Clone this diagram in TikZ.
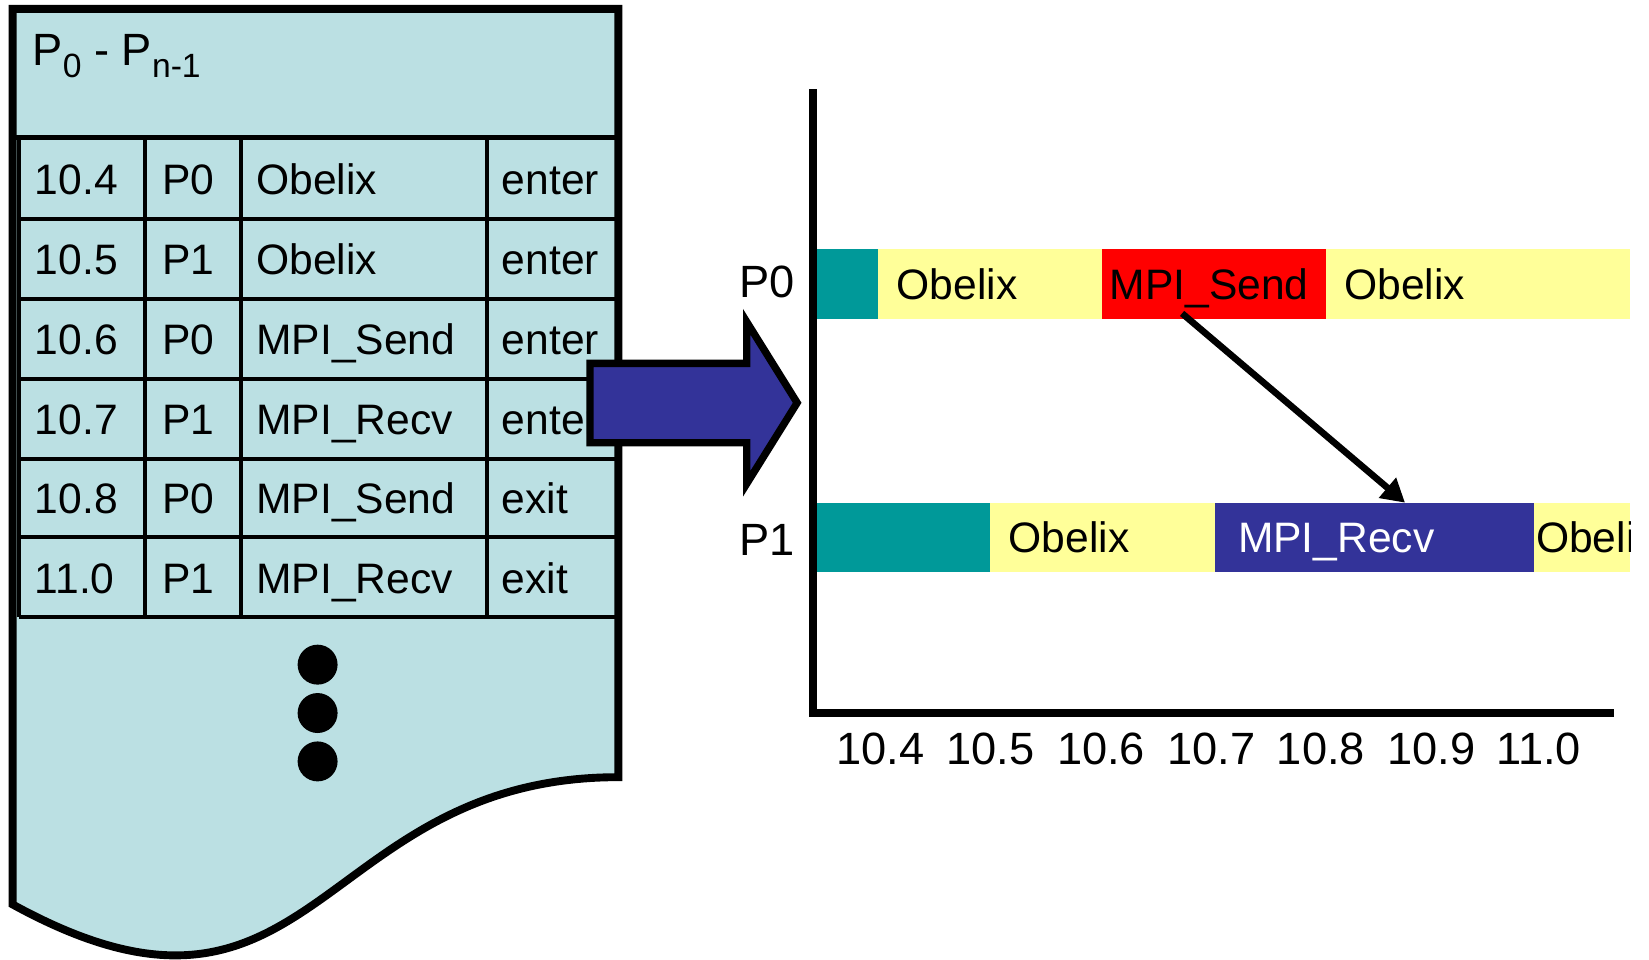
\documentclass[tikz,border=0pt]{standalone}
\usepackage{fontspec}
\setmainfont{Liberation Sans}
\usetikzlibrary{arrows.meta}
\definecolor{docfill}{HTML}{BBE0E3}
\definecolor{bteal}{HTML}{009999}
\definecolor{byellow}{HTML}{FFFF99}
\definecolor{bred}{HTML}{FF0000}
\definecolor{bblue}{HTML}{333399}
\tikzset{
  tline/.style={line width=3.8pt},
  celltext/.style={anchor=base west, inner sep=0pt, font=\fontsize{40.5}{41}\selectfont},
  bartext/.style={anchor=base west, inner sep=0pt, font=\fontsize{40.5}{41}\selectfont},
  axistext/.style={anchor=base, inner sep=0pt, font=\fontsize{43}{43}\selectfont},
  seg/.style={anchor=north west, inner sep=0pt, outer sep=0pt, minimum height=66pt},
  dotmark/.style={circle, fill=black, inner sep=0pt, minimum size=38pt},
}
\begin{document}
\begin{tikzpicture}[x=1pt,y=-1pt]
\useasboundingbox (0,0) rectangle (1568,912);

% trace file drawn as a document sheet with a wavy lower edge
\path[fill=docfill, draw=black, line width=7.5pt, line join=miter]
  (12,8.5) -- (588,8.5) -- (588,739)
  .. controls (300,739) and (300,1018) .. (12,860) -- cycle;

% header and event table
\node[anchor=base west, inner sep=0pt, font=\fontsize{43}{43}\selectfont] (hdr) at (31,62)
  {P\raisebox{-11.7pt}{\fontsize{32}{32}\selectfont 0} - P\raisebox{-11.7pt}{\fontsize{32}{32}\selectfont n-1}};
\draw[line width=4.5pt] (14,131) -- (586,131);
\foreach \y in {208,284,360,436,511,587} \draw[tline] (18,\y) -- (586,\y);
\foreach \x in {18,138,229,463} \draw[tline] (\x,131) -- (\x,587);

\foreach \yb/\ta/\tb/\tc/\td [count=\i] in {
    184.5/10.4/P0/Obelix/enter,
    261/10.5/P1/Obelix/enter,
    337/10.6/P0/MPI\_Send/enter,
    413/10.7/P1/MPI\_Recv/enter,
    488.5/10.8/P0/MPI\_Send/exit,
    564/11.0/P1/MPI\_Recv/exit} {
  \node[celltext] (time\i) at (33,\yb) {\ta};
  \node[celltext] (proc\i) at (154,\yb) {\tb};
  \node[celltext] (func\i) at (243.5,\yb) {\tc};
  \node[celltext] (kind\i) at (477,\yb) {\td};
}

% continuation dots
\foreach \y [count=\i] in {632,678,724}
  \node[dotmark] (dot\i) at (302,\y) {};

% block arrow from the trace to the timeline
\draw[fill=bblue, line width=7pt, line join=miter]
  (561,345.5) -- (710,345.5) -- (710,306) -- (758,383) -- (710,460)
  -- (710,421) -- (561,421) -- cycle;

% timeline axes
\draw[line width=7pt, line join=miter] (773,85) -- (773,678) -- (1535,678);

% process P0
\node[seg, fill=bteal,   minimum width=58pt]  (p0a) at (777,237) {};
\node[seg, fill=byellow, minimum width=213pt] (p0b) at (835,237) {};
\node[seg, fill=bred,    minimum width=213pt] (p0c) at (1048,237) {};
\node[seg, fill=byellow, minimum width=289pt] (p0d) at (1261,237) {};
\node[bartext] (l0b) at (852.5,284.5) {Obelix};
\node[bartext] (l0c) at (1055,284.5) {MPI\_Send};
\node[bartext] (l0d) at (1278,284.5) {Obelix};

% process P1
\node[seg, fill=bteal,   minimum width=164pt] (p1a) at (777,478) {};
\node[seg, fill=byellow, minimum width=214pt] (p1b) at (941,478) {};
\node[seg, fill=bblue,   minimum width=304pt] (p1c) at (1155,478) {};
\node[seg, fill=byellow, minimum width=91pt]  (p1d) at (1459,478) {};
\node[bartext] (l1b) at (959,525.5) {Obelix};
\node[bartext, text=white] (l1c) at (1177,525.5) {MPI\_Recv};
\begin{scope}
  \clip (1459,478) rectangle (1550,544);
  \node[bartext] (l1d) at (1460.5,525.5) {Obelix};
\end{scope}

% process labels
\node[axistext, anchor=base west] (lp0) at (702.5,283) {P0};
\node[axistext, anchor=base west] (lp1) at (702.5,528) {P1};

% time ticks
\foreach \x/\t [count=\i] in {837/10.4, 942/10.5, 1047/10.6, 1152/10.7, 1256/10.8, 1361/10.9, 1463/11.0}
  \node[axistext] (tick\i) at (\x,727) {\t};

% message from send to receive
\draw[line width=6.3pt, -{Triangle[length=22pt,width=24pt]}]
  ([xshift=-30.5pt,yshift=5pt]p0c.south) -- ([xshift=29pt]p1c.north);
\end{tikzpicture}
\end{document}
